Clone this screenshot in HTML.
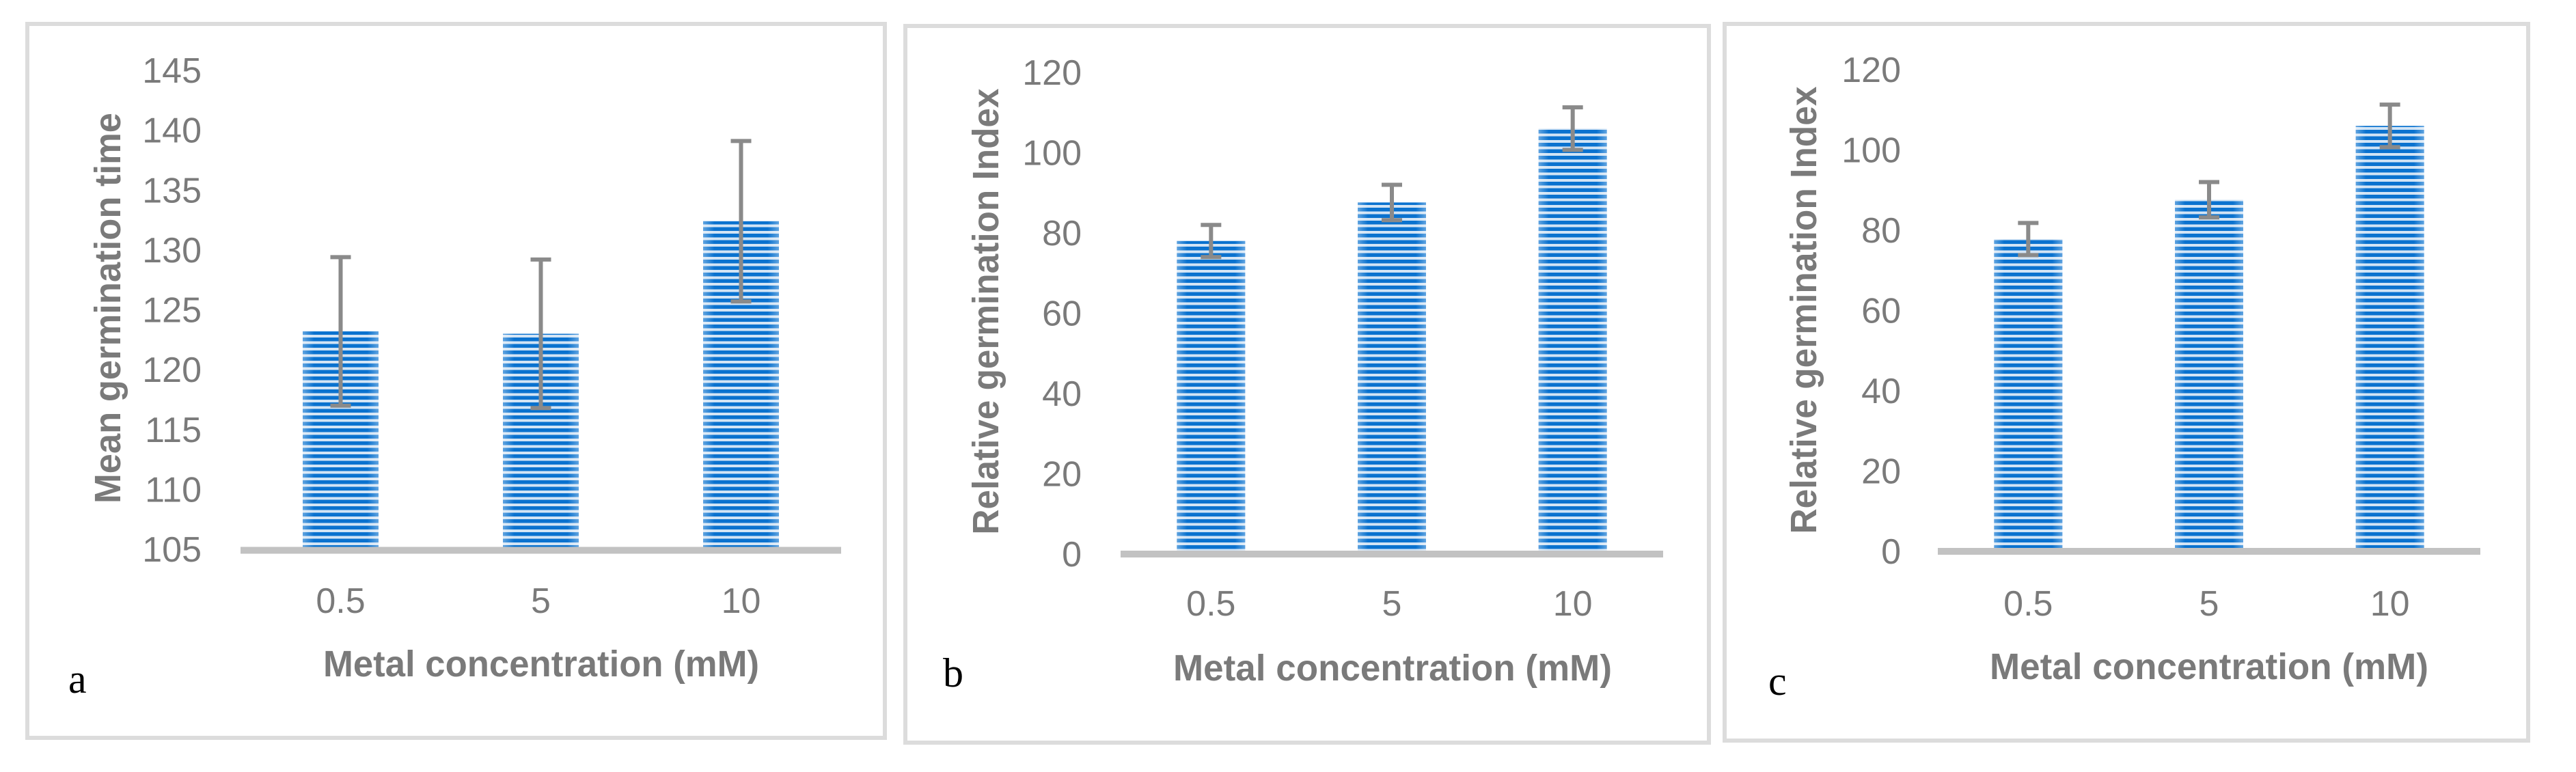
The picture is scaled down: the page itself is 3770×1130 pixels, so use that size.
<!DOCTYPE html>
<html><head><meta charset="utf-8">
<style>
html,body{margin:0;padding:0;background:#fff;}
svg{display:block;}
text{font-family:"Liberation Sans",sans-serif;}
</style></head>
<body>
<svg id="fig" width="3770" height="1130" viewBox="0 0 3770 1130" xmlns="http://www.w3.org/2000/svg">
<defs>
<pattern id="stripes" patternUnits="userSpaceOnUse" width="20" height="9.5">
<rect width="20" height="9.5" fill="#d2e4f5"/>
<rect y="0" width="20" height="5.5" fill="#0a72cf"/>
</pattern>
<linearGradient id="edge" x1="0" x2="1" y1="0" y2="0">
<stop offset="0" stop-color="#fff" stop-opacity="0.35"/>
<stop offset="0.15" stop-color="#fff" stop-opacity="0"/>
<stop offset="0.85" stop-color="#fff" stop-opacity="0"/>
<stop offset="1" stop-color="#fff" stop-opacity="0.35"/>
</linearGradient>
</defs>
</svg>
<script>
// Shared categories
const categories = ["0.5", "5", "10"];
// Panel a data
const valuesA = [123.2, 123.0, 132.4];
const errorsA = [6.2, 6.2, 6.7];
const ticksA = [105, 110, 115, 120, 125, 130, 135, 140, 145];
// Panel b data
const valuesB = [78.0, 87.6, 106.0];
const errorsB = [4.0, 4.4, 5.3];
const ticksB = [0, 20, 40, 60, 80, 100, 120];
// Panel c data
const valuesC = [77.8, 87.6, 106.0];
const errorsC = [4.0, 4.4, 5.3];
const ticksC = [0, 20, 40, 60, 80, 100, 120];

const NS = "http://www.w3.org/2000/svg";
const svg = document.getElementById("fig");
function mk(tag, attrs, parent) {
  const e = document.createElementNS(NS, tag);
  for (const k in attrs) e.setAttribute(k, attrs[k]);
  (parent || svg).appendChild(e);
  return e;
}

const panels = [
  {id:"a", vals:valuesA, errs:errorsA, ticks:ticksA, yTitle:"Mean germination time",
   box:[37,32,1298,1083], x0:352, x1:1231, yMin:105, yMax:145, yBottom:804, yTop:103,
   axisY:805.5, tickRight:295, yTitleX:157, yTitleC:451, yTitleLen:572,
   xLabelY:879, xTitleX:792, xTitleY:971, xTitleLen:638, letterX:100, letterY:1014, bw:111},
  {id:"b", vals:valuesB, errs:errorsB, ticks:ticksB, yTitle:"Relative germination Index",
   box:[1322,35,2504,1090], x0:1640, x1:2434, yMin:0, yMax:120, yBottom:811, yTop:106,
   axisY:811, tickRight:1583, yTitleX:1442, yTitleC:456, yTitleLen:653,
   xLabelY:883, xTitleX:2038, xTitleY:977, xTitleLen:642, letterX:1380, letterY:1005, bw:100},
  {id:"c", vals:valuesC, errs:errorsC, ticks:ticksC, yTitle:"Relative germination Index",
   box:[2521,32,3703,1087], x0:2836, x1:3630, yMin:0, yMax:120, yBottom:807, yTop:102,
   axisY:807, tickRight:2782, yTitleX:2639, yTitleC:454, yTitleLen:655,
   xLabelY:883, xTitleX:3233, xTitleY:975, xTitleLen:642, letterX:2588, letterY:1017, bw:100}
];

panels.forEach(p => {
  const g = mk("g", {});
  
  
  const [bx0, by0, bx1, by1] = p.box;
  const border = mk("rect", {x:bx0+3, y:by0+3, width:bx1-bx0-6, height:by1-by0-6, fill:"#fff", stroke:"#dcdcdc", "stroke-width":6}, g);
  
  

  const yScale = v => p.yBottom - (v - p.yMin) / (p.yMax - p.yMin) * (p.yBottom - p.yTop);
  const step = (p.x1 - p.x0) / categories.length;
  const xCenter = i => p.x0 + step * (i + 0.5);

  p.ticks.forEach(t => {
    const tx = mk("text", {x:p.tickRight, y:yScale(t)+18, "text-anchor":"end", "font-size":52, fill:"#7a7a7a"}, g);
    tx.textContent = t;
    
    
  });

  p.vals.forEach((v, i) => {
    const x = xCenter(i) - p.bw/2;
    const y = yScale(v);
    const h = yScale(p.yMin) - y;
    const bar = mk("rect", {x:x, y:y, width:p.bw, height:h, fill:"url(#stripes)"}, g);
    
    
    mk("rect", {x:x, y:y, width:p.bw, height:h, fill:"url(#edge)"}, g);
  });

  const ax = mk("line", {x1:p.x0, x2:p.x1, y1:p.axisY, y2:p.axisY, stroke:"#c2c2c2", "stroke-width":10}, g);
  
  

  p.vals.forEach((v, i) => {
    const cx = xCenter(i);
    const yHi = yScale(v + p.errs[i]);
    const yLo = yScale(v - p.errs[i]);
    const eg = mk("g", {stroke:"#8a8a8a", "stroke-width":6}, g);
    
    
    mk("line", {x1:cx, x2:cx, y1:yHi, y2:yLo}, eg);
    mk("line", {x1:cx-15, x2:cx+15, y1:yHi, y2:yHi}, eg);
    mk("line", {x1:cx-15, x2:cx+15, y1:yLo, y2:yLo}, eg);
  });

  categories.forEach((c, i) => {
    const tx = mk("text", {x:xCenter(i), y:p.xLabelY+18, "text-anchor":"middle", "font-size":52, fill:"#7a7a7a"}, g);
    tx.textContent = c;
    
    
  });

  const xt = mk("text", {x:p.xTitleX, y:p.xTitleY+19, "text-anchor":"middle", "font-size":54, "font-weight":"bold", fill:"#7a7a7a", textLength:p.xTitleLen, lengthAdjust:"spacingAndGlyphs"}, g);
  xt.textContent = "Metal concentration (mM)";
  
  

  const yt = mk("text", {x:0, y:0, "text-anchor":"middle", "font-size":54, "font-weight":"bold", fill:"#7a7a7a", textLength:p.yTitleLen, lengthAdjust:"spacingAndGlyphs",
    transform:"translate(" + (p.yTitleX+19) + "," + p.yTitleC + ") rotate(-90)"}, g);
  yt.textContent = p.yTitle;
  
  

  const lt = mk("text", {x:p.letterX, y:p.letterY, "font-size":60, fill:"#000", style:"font-family:'Liberation Serif',serif"}, g);
  lt.textContent = p.id;
  
  
});
</script>
</body></html>
